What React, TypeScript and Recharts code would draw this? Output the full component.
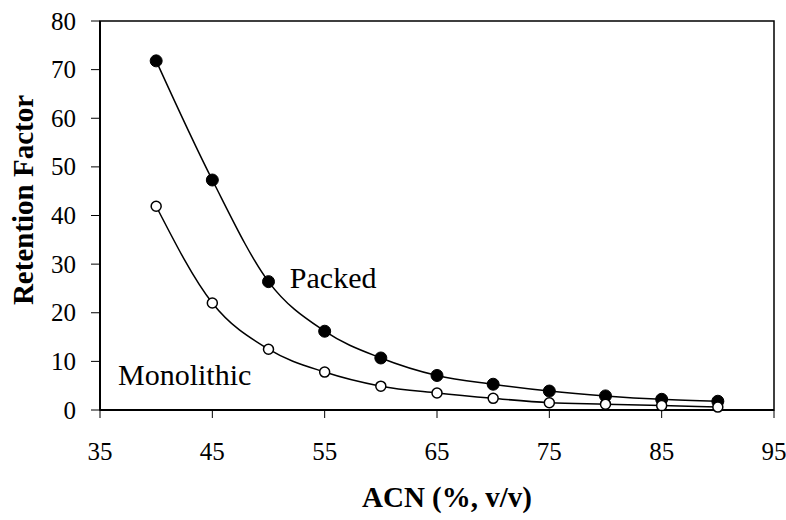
import { ComposedChart, Line, XAxis, YAxis, ReferenceArea, ReferenceDot, Label } from 'recharts';

const acn = [40, 45, 50, 55, 60, 65, 70, 75, 80, 85, 90];
const packed = [71.8, 47.3, 26.4, 16.2, 10.7, 7.1, 5.3, 3.9, 2.9, 2.2, 1.8];
const monolithic = [41.9, 22.0, 12.5, 7.8, 4.9, 3.5, 2.4, 1.5, 1.2, 0.9, 0.6];
const xTicks = [35, 45, 55, 65, 75, 85, 95];
const yTicks = [0, 10, 20, 30, 40, 50, 60, 70, 80];

const data = acn.map((x, i) => ({ x, packed: packed[i], monolithic: monolithic[i] }));

const FONT = '"Liberation Serif", "Times New Roman", serif';

function XTick({ x, y, payload }: any) {
  return (
    <text x={x} y={y + 42} fill="#000" fontSize={25} fontFamily={FONT} textAnchor="middle">
      {payload.value}
    </text>
  );
}

function YTick({ x, y, payload }: any) {
  return (
    <text x={x - 15} y={y + 8.5} fill="#000" fontSize={25} fontFamily={FONT} textAnchor="end">
      {payload.value}
    </text>
  );
}

function XTitle({ viewBox }: any) {
  return (
    <text x={viewBox.x + viewBox.width / 2 + 10} y={507} fill="#000" fontSize={29} fontWeight="bold" fontFamily={FONT} textAnchor="middle">
      ACN (%, v/v)
    </text>
  );
}

function YTitle() {
  const cx = 33;
  const cy = 200;
  return (
    <text x={cx} y={cy} transform={`rotate(-90, ${cx}, ${cy})`} fill="#000" fontSize={29} fontWeight="bold" fontFamily={FONT} textAnchor="middle">
      Retention Factor
    </text>
  );
}

function SeriesLabel({ viewBox, text }: any) {
  const x = viewBox?.x ?? viewBox?.cx ?? 0;
  const y = viewBox?.y ?? viewBox?.cy ?? 0;
  return (
    <text x={x} y={y} fill="#000" fontSize={30} fontFamily={FONT} textAnchor="start">
      {text}
    </text>
  );
}

export default function App() {
  return (
    <div style={{ position: 'absolute', left: 0, top: 0, background: '#fff' }}>
      <ComposedChart width={786} height={520} data={data} margin={{ top: 21, right: 12, bottom: 30, left: 0 }}>
        <XAxis
          dataKey="x"
          type="number"
          domain={[35, 95]}
          ticks={xTicks}
          tick={<XTick />}
          tickSize={8}
          tickMargin={0}
          height={80}
          axisLine={{ stroke: '#000', strokeWidth: 2 }}
          tickLine={{ stroke: '#000', strokeWidth: 1 }}
        >
          <Label content={<XTitle />} />
        </XAxis>
        <YAxis
          type="number"
          domain={[0, 80]}
          ticks={yTicks}
          tick={<YTick />}
          tickSize={9}
          tickMargin={0}
          width={100}
          axisLine={{ stroke: '#000', strokeWidth: 2 }}
          tickLine={{ stroke: '#000', strokeWidth: 1 }}
        >
          <Label content={<YTitle />} />
        </YAxis>
        <ReferenceArea x1={35} x2={95} y1={0} y2={80} fill="none" stroke="#000" strokeWidth={1.5} />
        <Line
          dataKey="packed"
          type="monotone"
          stroke="#000"
          strokeWidth={1.5}
          dot={{ r: 6, fill: '#000', stroke: '#000', strokeWidth: 1 }}
          isAnimationActive={false}
        />
        <Line
          dataKey="monolithic"
          type="monotone"
          stroke="#000"
          strokeWidth={1.5}
          dot={{ r: 5, fill: '#fff', stroke: '#000', strokeWidth: 1.5 }}
          isAnimationActive={false}
        />
        <ReferenceDot x={51.9} y={25.1} r={0} stroke="none" label={<SeriesLabel text="Packed" />} />
        <ReferenceDot x={36.6} y={5.1} r={0} stroke="none" label={<SeriesLabel text="Monolithic" />} />
      </ComposedChart>
    </div>
  );
}
